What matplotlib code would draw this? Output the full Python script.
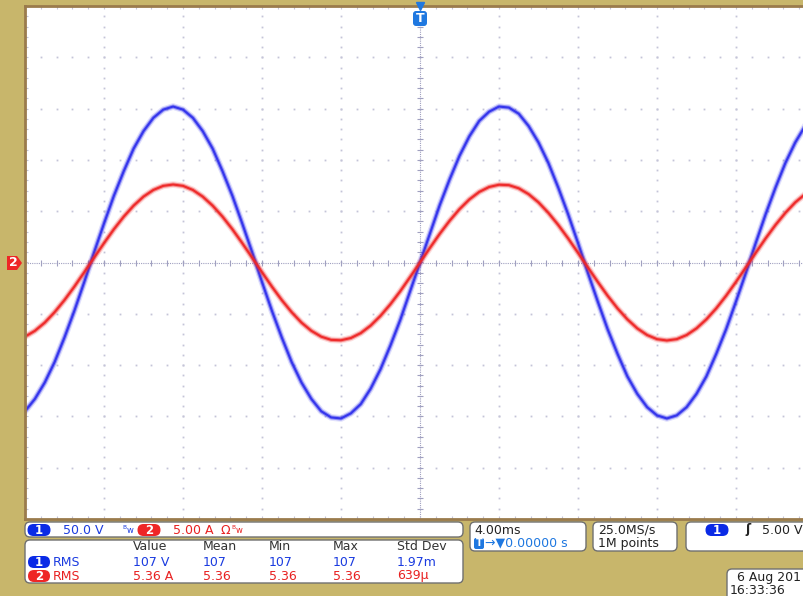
import numpy as np
import matplotlib
matplotlib.use('Agg')
import matplotlib.pyplot as plt
from matplotlib.patches import FancyBboxPatch, Polygon
from matplotlib.transforms import IdentityTransform

W, H = 804, 596

# sample instants (ms) and traces
t_ms = np.linspace(-20, 20, 81)
volts = [-145, -133, -117, -97, -73, -47, -19, 10, 38, 65, 89, 111, 128, 141, 149, 152,
         149, 141, 128, 111, 89, 65, 38, 10, -19, -47, -73, -97, -117, -133, -145, -151,
         -152, -147, -138, -123, -104, -81, -56, -28, 0, 28, 56, 81, 104, 123, 138, 147,
         152, 151, 145, 133, 117, 97, 73, 47, 19, -10, -38, -65, -89, -111, -128, -141,
         -149, -152, -149, -141, -128, -111, -89, -65, -38, -10, 19, 47, 73, 97, 117, 133, 145]
amps = [-7.23, -6.66, -5.86, -4.84, -3.66, -2.35, -0.95, 0.48, 1.89, 3.24, 4.47, 5.54, 6.42,
        7.07, 7.47, 7.60, 7.47, 7.07, 6.42, 5.54, 4.47, 3.24, 1.89, 0.48, -0.95, -2.35, -3.66,
        -4.84, -5.86, -6.66, -7.23, -7.54, -7.58, -7.36, -6.88, -6.15, -5.20, -4.07, -2.80,
        -1.42, 0.00, 1.42, 2.80, 4.07, 5.20, 6.15, 6.88, 7.36, 7.58, 7.54, 7.23, 6.66, 5.86,
        4.84, 3.66, 2.35, 0.95, -0.48, -1.89, -3.24, -4.47, -5.54, -6.42, -7.07, -7.47, -7.60,
        -7.47, -7.07, -6.42, -5.54, -4.47, -3.24, -1.89, -0.48, 0.95, 2.35, 3.66, 4.84, 5.86,
        6.66, 7.23]

volts_per_div = 50.0
amps_per_div = 5.0
ms_per_div = 4.0

headers = ['Value', 'Mean', 'Min', 'Max', 'Std Dev']
ch1_stats = ['107 V', '107', '107', '107', '1.97m']
ch2_stats = ['5.36 A', '5.36', '5.36', '5.36', '639\u00b5']

TAN = '#c8b66b'
EDGE = '#9a7b4c'
BLUE = '#3030ec'
RED = '#ee2626'
TXT_BLUE = '#1a3be0'
TXT_RED = '#e82020'
BADGE_BLUE = '#0a2ae6'
TRIG = '#1f78e0'
GRID = '#c4c4d8'
AXIS = '#a0a0c0'

def fx(x):
    return x / W

def fy(y):
    return 1 - y / H

fig = plt.figure(figsize=(W / 100, H / 100), dpi=100, facecolor=TAN)
PIX = IdentityTransform()

ax = fig.add_axes([fx(25), fy(519), 790 / W, 513 / H])
ax.set_facecolor('white')
ax.set_xlim(-5 * ms_per_div, 5 * ms_per_div)
ax.set_ylim(-5, 5)
ax.set_xticks([])
ax.set_yticks([])
for s in ['left', 'top', 'bottom']:
    ax.spines[s].set_color(EDGE)
    ax.spines[s].set_linewidth(2)
ax.spines['right'].set_visible(False)

# graticule
fine_x = np.arange(-20, 20.01, 0.8)
fine_y = np.arange(-5, 5.01, 0.2)
for gy in range(-4, 5):
    if gy == 0:
        continue
    ax.plot(fine_x, np.full_like(fine_x, gy), ls='none', marker='s', ms=1.3, color=GRID, mew=0)
for gx in np.arange(-16, 17, 4):
    if gx == 0:
        continue
    ax.plot(np.full_like(fine_y, gx), fine_y, ls='none', marker='s', ms=1.3, color=GRID, mew=0)
# centre cross
ax.axhline(0, color=AXIS, lw=0.8, ls=(0, (1, 1)))
ax.axvline(0, color=AXIS, lw=0.8, ls=(0, (1, 1)))
ax.plot(fine_x, np.zeros_like(fine_x), ls='none', marker='|', ms=5, mew=0.8, color=AXIS)
ax.plot(np.zeros_like(fine_y), fine_y, ls='none', marker='_', ms=5, mew=0.8, color=AXIS)
# edge ticks
ax.plot(np.full_like(fine_y, -20), fine_y, ls='none', marker='_', ms=5, mew=0.8, color=GRID)
ax.plot(fine_x, np.full_like(fine_x, 5), ls='none', marker='|', ms=5, mew=0.8, color=GRID)
ax.plot(fine_x, np.full_like(fine_x, -5), ls='none', marker='|', ms=5, mew=0.8, color=GRID)

# traces (with a soft phosphor look)
v_div = np.array(volts) / volts_per_div
i_div = np.array(amps) / amps_per_div
for y, c in [(v_div, BLUE), (i_div, RED)]:
    ax.plot(t_ms, y, color=c, lw=4.8, alpha=0.15, solid_joinstyle='round')
    ax.plot(t_ms, y, color=c, lw=3.0, alpha=0.45, solid_joinstyle='round')
    ax.plot(t_ms, y, color=c, lw=1.5, alpha=0.95, solid_joinstyle='round')


def rbox(x0, y0, x1, y1, fc='white', ec='#707070', r=5, lw=1.0):
    # rounded box given in image pixels (y down)
    p = FancyBboxPatch((x0, H - y1), x1 - x0, y1 - y0,
                       boxstyle='round,pad=0,rounding_size=%g' % r, transform=PIX,
                       fc=fc, ec=ec, lw=lw)
    fig.add_artist(p)


def badge(x, y, label, color, w=23, h=12):
    rbox(x - w / 2, y - h / 2, x + w / 2, y + h / 2, fc=color, ec='none', r=h / 2, lw=0)
    fig.text(fx(x), fy(y), label, color='white', fontsize=8.5, fontweight='bold',
             ha='center', va='center')


# trigger marker
ax.plot([0], [5], marker='v', ms=6, color=TRIG, clip_on=False, zorder=5)
rbox(413, 11, 427, 26, fc=TRIG, ec='none', r=3, lw=0)
fig.text(fx(420), fy(18.5), 'T', color='white', fontsize=9, fontweight='bold', ha='center', va='center')

# channel 2 ground marker
fig.add_artist(Polygon([(7, H - 256), (17, H - 256), (22, H - 263), (17, H - 270), (7, H - 270)],
                       closed=True, transform=PIX, fc=RED, ec='none'))
fig.text(fx(13.5), fy(263), '2', color='white', fontsize=9, fontweight='bold', ha='center', va='center')

FS = 9
rbox(25, 522, 463, 537)
rbox(25, 540, 463, 583)
rbox(470, 522, 586, 551)
rbox(593, 522, 677, 551)
rbox(686, 522, 830, 551)
rbox(727, 569, 830, 610)

badge(39, 530, '1', BADGE_BLUE)
fig.text(fx(63), fy(530), '50.0 V', color=TXT_BLUE, fontsize=FS, va='center')
fig.text(fx(122), fy(530), r'$^{\rm B}{\rm w}$', color=TXT_BLUE, fontsize=6, va='center')
badge(149, 530, '2', RED)
fig.text(fx(173), fy(530), '5.00 A', color=TXT_RED, fontsize=FS, va='center')
fig.text(fx(221), fy(530), '\u03a9', color=TXT_RED, fontsize=FS, va='center')
fig.text(fx(231), fy(530), r'$^{\rm B}{\rm w}$', color=TXT_RED, fontsize=6, va='center')

col_x = [133, 203, 269, 333, 397]
for cx, h in zip(col_x, headers):
    fig.text(fx(cx), fy(547), h, color='#333333', fontsize=FS, va='center')
badge(39, 562, '1', BADGE_BLUE, w=22)
fig.text(fx(53), fy(562), 'RMS', color=TXT_BLUE, fontsize=FS, va='center')
badge(39, 576, '2', RED, w=22)
fig.text(fx(53), fy(576), 'RMS', color=TXT_RED, fontsize=FS, va='center')
for cx, a, b in zip(col_x, ch1_stats, ch2_stats):
    fig.text(fx(cx), fy(562), a, color=TXT_BLUE, fontsize=FS, va='center')
    fig.text(fx(cx), fy(576), b, color=TXT_RED, fontsize=FS, va='center')

fig.text(fx(474), fy(530), '4.00ms', color='#222222', fontsize=FS, va='center')
rbox(474, 538, 484, 549, fc=TRIG, ec='none', r=2, lw=0)
fig.text(fx(479), fy(543.5), 'T', color='white', fontsize=7, fontweight='bold', ha='center', va='center')
fig.text(fx(485), fy(543), '\u2192\u25bc0.00000 s', color=TRIG, fontsize=FS, va='center')

fig.text(fx(598), fy(530), '25.0MS/s', color='#222222', fontsize=FS, va='center')
fig.text(fx(598), fy(543), '1M points', color='#222222', fontsize=FS, va='center')

badge(717, 530, '1', BADGE_BLUE)
fig.text(fx(745), fy(530), '\u0283', color='#222222', fontsize=FS, va='center', fontweight='bold')
fig.text(fx(762), fy(530), '5.00 V', color='#222222', fontsize=FS, va='center')

fig.text(fx(737), fy(577), '6 Aug 201', color='#222222', fontsize=FS, va='center')
fig.text(fx(730), fy(590), '16:33:36', color='#222222', fontsize=FS, va='center')

fig.savefig('out.png', dpi=100, facecolor=TAN)
